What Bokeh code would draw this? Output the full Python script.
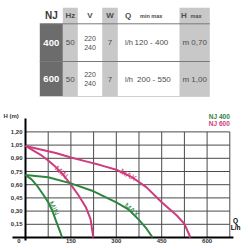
from bokeh.plotting import figure
from bokeh.layouts import column
from bokeh.models import Range1d
from bokeh.core.properties import value
from bokeh.embed import file_html
from bokeh.resources import INLINE

# ---------------- data ----------------
models = ["400", "600"]
hz = [50, 50]
volts = ["220", "240"]
watts = [7, 7]
q_min = [120, 200]
q_max = [400, 550]
h_max = ["0,70", "1,00"]

x_ticks = [150, 300, 450, 600]
x_grid = [75, 150, 225, 300, 375, 450, 525, 600, 675]
y_ticks = [0.15, 0.30, 0.45, 0.60, 0.75, 0.90, 1.05, 1.20]
y_labels = ["0,15", "0,30", "0,45", "0,60", "0,75", "0,90", "1,05", "1,20"]

nj600_max_q = [0, 50, 100, 150, 200, 250, 300, 350, 400, 450, 500, 525, 545]
nj600_max_h = [1.04, 1.00, 0.96, 0.91, 0.865, 0.82, 0.77, 0.69, 0.57, 0.40, 0.25, 0.155, 0.0]
nj600_min_q = [0, 25, 50, 75, 100, 125, 150, 175, 200, 215, 224]
nj600_min_h = [1.04, 0.99, 0.94, 0.875, 0.80, 0.71, 0.60, 0.48, 0.34, 0.21, 0.0]
nj400_max_q = [0, 75, 150, 225, 300, 340, 375, 400, 420]
nj400_max_h = [0.71, 0.685, 0.615, 0.525, 0.40, 0.32, 0.20, 0.10, 0.0]
nj400_min_q = [0, 20, 40, 60, 75, 88, 105, 115, 121]
nj400_min_h = [0.71, 0.66, 0.58, 0.48, 0.40, 0.31, 0.15, 0.06, 0.0]

PINK = "#cf3c7e"
GREEN = "#2e8540"
FONT = "Liberation Sans"
TXT = "#4d4d4d"

# ---------------- table ----------------
t = figure(width=250, height=110, x_range=Range1d(0, 250), y_range=Range1d(110, 0),
           output_backend="svg", toolbar_location=None, min_border=0,
           x_axis_type=None, y_axis_type=None, outline_line_color=None)
t.grid.visible = False

col_edges = [39.3, 62.3, 77.3, 101.7, 117.3, 179.0, 209.3]
row_edges = [7.3, 23.3, 61.0, 96.0]
cx = [(col_edges[i] + col_edges[i + 1]) / 2 for i in range(6)]
ry = [(row_edges[i] + row_edges[i + 1]) / 2 for i in range(3)]

for i in (1, 3, 5):
    t.quad(left=col_edges[i], right=col_edges[i + 1], top=row_edges[0], bottom=row_edges[3],
           fill_color="#c8c8c8", line_color=None)
t.quad(left=col_edges[0], right=col_edges[1], top=row_edges[1], bottom=row_edges[3],
       fill_color="#6c6c6c", line_color=None)
for yy, c in ((row_edges[1], "#7a7a7a"), (row_edges[2], "#7a7a7a"), (row_edges[3], "#d0d0d0")):
    t.segment(x0=col_edges[0], x1=col_edges[6], y0=yy, y1=yy, line_color=c, line_width=1)

def ttext(x, y, s, size, color=TXT, bold=True, align="center"):
    t.text(x=[x], y=[y], text=[s], text_font=value(FONT), text_font_size=size,
           text_color=color, text_align=align, text_baseline="middle",
           text_font_style="bold" if bold else "normal")

ttext(cx[0], ry[0], "NJ", "10px", color="#3a3a3a")
ttext(cx[1], ry[0], "Hz", "8px")
ttext(cx[2], ry[0], "V", "8px")
ttext(cx[3], ry[0], "W", "8px")
ttext(124.5, ry[0], "Q", "8px", align="left")
ttext(139.5, ry[0] + 0.5, "min  max", "5.5px", align="left")
ttext(180.5, ry[0], "H", "8px", align="left")
ttext(190.0, ry[0] + 0.5, "max", "5.5px", align="left")

for k in range(2):
    y = ry[k + 1]
    ttext(cx[0], y, models[k], "9.5px", color="white")
    ttext(cx[1], y, str(hz[k]), "8px", bold=False)
    ttext(cx[2], y - 4.5, volts[0], "7px", bold=False)
    ttext(cx[2], y + 4.5, volts[1], "7px", bold=False)
    ttext(cx[3], y, str(watts[k]), "8px", bold=False)
    ttext(124.5, y, "l/h", "7.5px", bold=False, align="left")
    ttext(136.5 if k == 1 else 134.0, y, f"{q_min[k]} - {q_max[k]}", "8px", bold=False, align="left")
    ttext(cx[5], y, f"m {h_max[k]}", "8px", bold=False)

# ---------------- chart ----------------
p = figure(width=250, height=140, x_range=Range1d(-82.6, 743.4), y_range=Range1d(-0.1477, 1.4432),
           output_backend="svg", toolbar_location=None, min_border=0,
           x_axis_type=None, y_axis_type=None, outline_line_color=None)
p.grid.visible = False

GRID = "#4a4a4a"
p.segment(x0=x_grid, x1=x_grid, y0=[0] * len(x_grid), y1=[1.20] * len(x_grid),
          line_color=GRID, line_width=1)
p.segment(x0=[0] * len(y_ticks), x1=[675] * len(y_ticks), y0=y_ticks, y1=y_ticks,
          line_color=GRID, line_width=1)

p.segment(x0=[0], x1=[0], y0=[-0.035], y1=[1.352], line_color="black", line_width=2)
p.segment(x0=[-43], x1=[687], y0=[0], y1=[0], line_color="black", line_width=2)

p.line(nj600_max_q, nj600_max_h, line_color=PINK, line_width=2)
p.line(nj600_min_q, nj600_min_h, line_color=PINK, line_width=2)
p.line(nj400_max_q, nj400_max_h, line_color=GREEN, line_width=2)
p.line(nj400_min_q, nj400_min_h, line_color=GREEN, line_width=2)

LAB = "#333333"
p.text(x=[-10] * len(y_ticks), y=y_ticks, text=y_labels, text_font=value(FONT),
       text_font_size="6px", text_font_style="bold", text_color=LAB,
       text_align="right", text_baseline="middle")
p.text(x=x_ticks, y=[-0.042] * len(x_ticks), text=[str(v) for v in x_ticks], text_font=value(FONT),
       text_font_size="6px", text_font_style="bold", text_color=LAB,
       text_align="center", text_baseline="middle")
p.text(x=[-22], y=[-0.042], text=["0"], text_font=value(FONT),
       text_font_size="6px", text_font_style="bold", text_color=LAB,
       text_align="center", text_baseline="middle")
p.text(x=[-72.7], y=[1.378], text=["H (m)"], text_font=value(FONT),
       text_font_size="6px", text_font_style="bold", text_color=LAB,
       text_align="left", text_baseline="middle")
p.text(x=[694, 694], y=[0.193, 0.11], text=["Q", "L/h"], text_font=value(FONT),
       text_font_size="6.5px", text_font_style="bold", text_color="black",
       text_align="center", text_baseline="middle")
p.text(x=[675, 675], y=[1.378, 1.292], text=["NJ 400", "NJ 600"], text_font=value(FONT),
       text_font_size="6.5px", text_font_style="bold", text_color=[GREEN, PINK],
       text_align="right", text_baseline="middle")

p.text(x=[118, 339], y=[0.74, 0.71], text=["MIN", "MAX"], angle=[-0.73, -0.52],
       text_font=value(FONT), text_font_size="8px", text_color=PINK,
       text_align="center", text_baseline="middle")
p.text(x=[93, 350], y=[0.33, 0.31], text=["MIN", "MAX"], angle=[-1.1, -0.72],
       text_font=value(FONT), text_font_size="8px", text_color=GREEN,
       text_align="center", text_baseline="middle")

layout = column(t, p, spacing=0)
open("out.html", "w").write(file_html(layout, INLINE))
